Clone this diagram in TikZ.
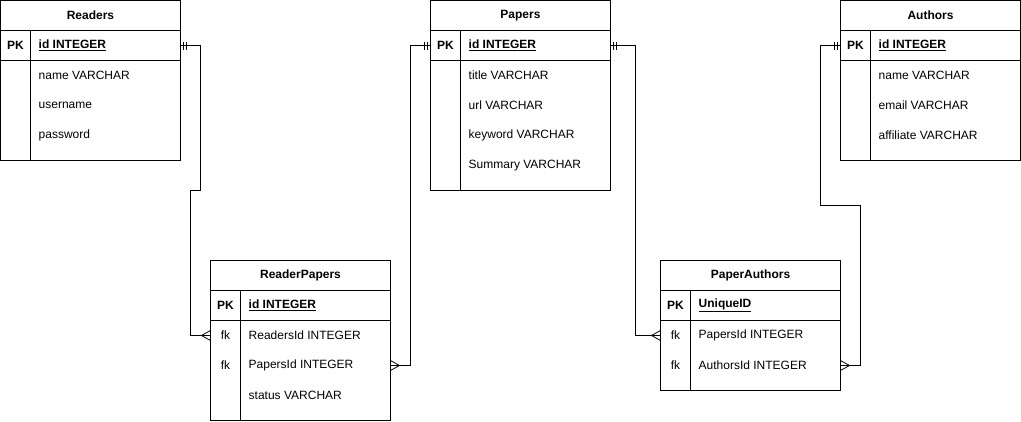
\documentclass[tikz,border=0pt]{standalone}
\usepackage{fontspec}
\setmainfont{Liberation Sans}
\usetikzlibrary{positioning}

\tikzset{
  tbl/.style={draw,line width=1pt,minimum width=180pt,inner sep=0pt,outer sep=0pt,anchor=north west},
  hdr/.style={tbl,minimum height=30pt,font=\bfseries},
  fld/.style={anchor=west,inner sep=0pt},
  keycol/.style={inner sep=0pt},
  rel/.style={draw,line width=1pt},
  onemark/.pic={\draw[line width=1pt] (3,-4) -- (3,4) (6,-4) -- (6,4);},
  manymark/.pic={\draw[line width=0.8pt] (-9,0) -- (0,-5) (-9,0) -- (0,5);}
}

\begin{document}
\fontsize{12pt}{14pt}\selectfont
\begin{tikzpicture}[x=1pt,y=-1pt]
\useasboundingbox (-0.5,-0.5) rectangle (1020.5,420.5);
% Readers
\node[hdr] (readers) at (0,0) {Readers};
\node[tbl,minimum height=30pt,below=0pt of readers] (readers-pk) {};
\node[tbl,minimum height=100pt,below=0pt of readers-pk] (readers-body) {};
\draw[line width=1pt] ([xshift=30pt]readers-pk.north west) -- ([xshift=30pt]readers-body.south west);
\node[keycol,font=\bfseries] at ([xshift=15pt]readers-pk.west) {PK};
\node[fld,font=\bfseries] (readers-id) at ([xshift=38pt]readers-pk.west) {\underline{id INTEGER}};
\node[fld] (readers-f1) at (38,75) {name VARCHAR};
\node[fld] (readers-f2) at (38,105) {username};
\node[fld] (readers-f3) at (38,135) {password};
% Papers
\node[hdr] (papers) at (430,0) {Papers};
\node[tbl,minimum height=30pt,below=0pt of papers] (papers-pk) {};
\node[tbl,minimum height=130pt,below=0pt of papers-pk] (papers-body) {};
\draw[line width=1pt] ([xshift=30pt]papers-pk.north west) -- ([xshift=30pt]papers-body.south west);
\node[keycol,font=\bfseries] at ([xshift=15pt]papers-pk.west) {PK};
\node[fld,font=\bfseries] (papers-id) at ([xshift=38pt]papers-pk.west) {\underline{id INTEGER}};
\node[fld] (papers-f1) at (468,75) {title VARCHAR};
\node[fld] (papers-f2) at (468,105) {url VARCHAR};
\node[fld] (papers-f3) at (468,135) {keyword VARCHAR};
\node[fld] (papers-f4) at (468,165) {Summary VARCHAR};
% Authors
\node[hdr] (authors) at (840,0) {Authors};
\node[tbl,minimum height=30pt,below=0pt of authors] (authors-pk) {};
\node[tbl,minimum height=100pt,below=0pt of authors-pk] (authors-body) {};
\draw[line width=1pt] ([xshift=30pt]authors-pk.north west) -- ([xshift=30pt]authors-body.south west);
\node[keycol,font=\bfseries] at ([xshift=15pt]authors-pk.west) {PK};
\node[fld,font=\bfseries] (authors-id) at ([xshift=38pt]authors-pk.west) {\underline{id INTEGER}};
\node[fld] (authors-f1) at (878,75) {name VARCHAR};
\node[fld] (authors-f2) at (878,105) {email VARCHAR};
\node[fld] (authors-f3) at (878,135) {affiliate VARCHAR};
% ReaderPapers
\node[hdr] (rp) at (210,260) {ReaderPapers};
\node[tbl,minimum height=30pt,below=0pt of rp] (rp-pk) {};
\node[tbl,minimum height=100pt,below=0pt of rp-pk] (rp-body) {};
\draw[line width=1pt] ([xshift=30pt]rp-pk.north west) -- ([xshift=30pt]rp-body.south west);
\node[keycol,font=\bfseries] at ([xshift=15pt]rp-pk.west) {PK};
\node[fld,font=\bfseries] (rp-id) at ([xshift=38pt]rp-pk.west) {\underline{id INTEGER}};
\node[keycol] at (225,335) {fk};
\node[keycol] at (225,365) {fk};
\node[fld] (rp-f1) at (248,335) {ReadersId INTEGER};
\node[fld] (rp-f2) at (248,365) {PapersId INTEGER};
\node[fld] (rp-f3) at (248,395) {status VARCHAR};
% PaperAuthors
\node[hdr] (pa) at (660,260) {PaperAuthors};
\node[tbl,minimum height=30pt,below=0pt of pa] (pa-pk) {};
\node[tbl,minimum height=70pt,below=0pt of pa-pk] (pa-body) {};
\draw[line width=1pt] ([xshift=30pt]pa-pk.north west) -- ([xshift=30pt]pa-body.south west);
\node[keycol,font=\bfseries] at ([xshift=15pt]pa-pk.west) {PK};
\node[fld,font=\bfseries] (pa-id) at ([xshift=38pt]pa-pk.west) {\underline{UniqueID}};
\node[keycol] at (675,335) {fk};
\node[keycol] at (675,365) {fk};
\node[fld] (pa-f1) at (698,335) {PapersId INTEGER};
\node[fld] (pa-f2) at (698,365) {AuthorsId INTEGER};
% relations
\draw[rel] (readers-pk.east) -- ++(20,0) |- ++(-10,145) |- (rp-body.west |- rp-f1);
\draw[rel] (papers-pk.west) -- ++(-20,0) |- (rp-body.east |- rp-f2);
\draw[rel] (papers-pk.east) -- ++(25,0) |- (pa-body.west |- pa-f1);
\draw[rel] (authors-pk.west) -- ++(-20,0) |- ++(40,160) |- (pa-body.east |- pa-f2);
\pic at (readers-pk.east) {onemark};
\pic[xscale=-1] at (papers-pk.west) {onemark};
\pic at (papers-pk.east) {onemark};
\pic[xscale=-1] at (authors-pk.west) {onemark};
\pic at (rp-body.west |- rp-f1) {manymark};
\pic[xscale=-1] at (rp-body.east |- rp-f2) {manymark};
\pic at (pa-body.west |- pa-f1) {manymark};
\pic[xscale=-1] at (pa-body.east |- pa-f2) {manymark};
\end{tikzpicture}
\end{document}
